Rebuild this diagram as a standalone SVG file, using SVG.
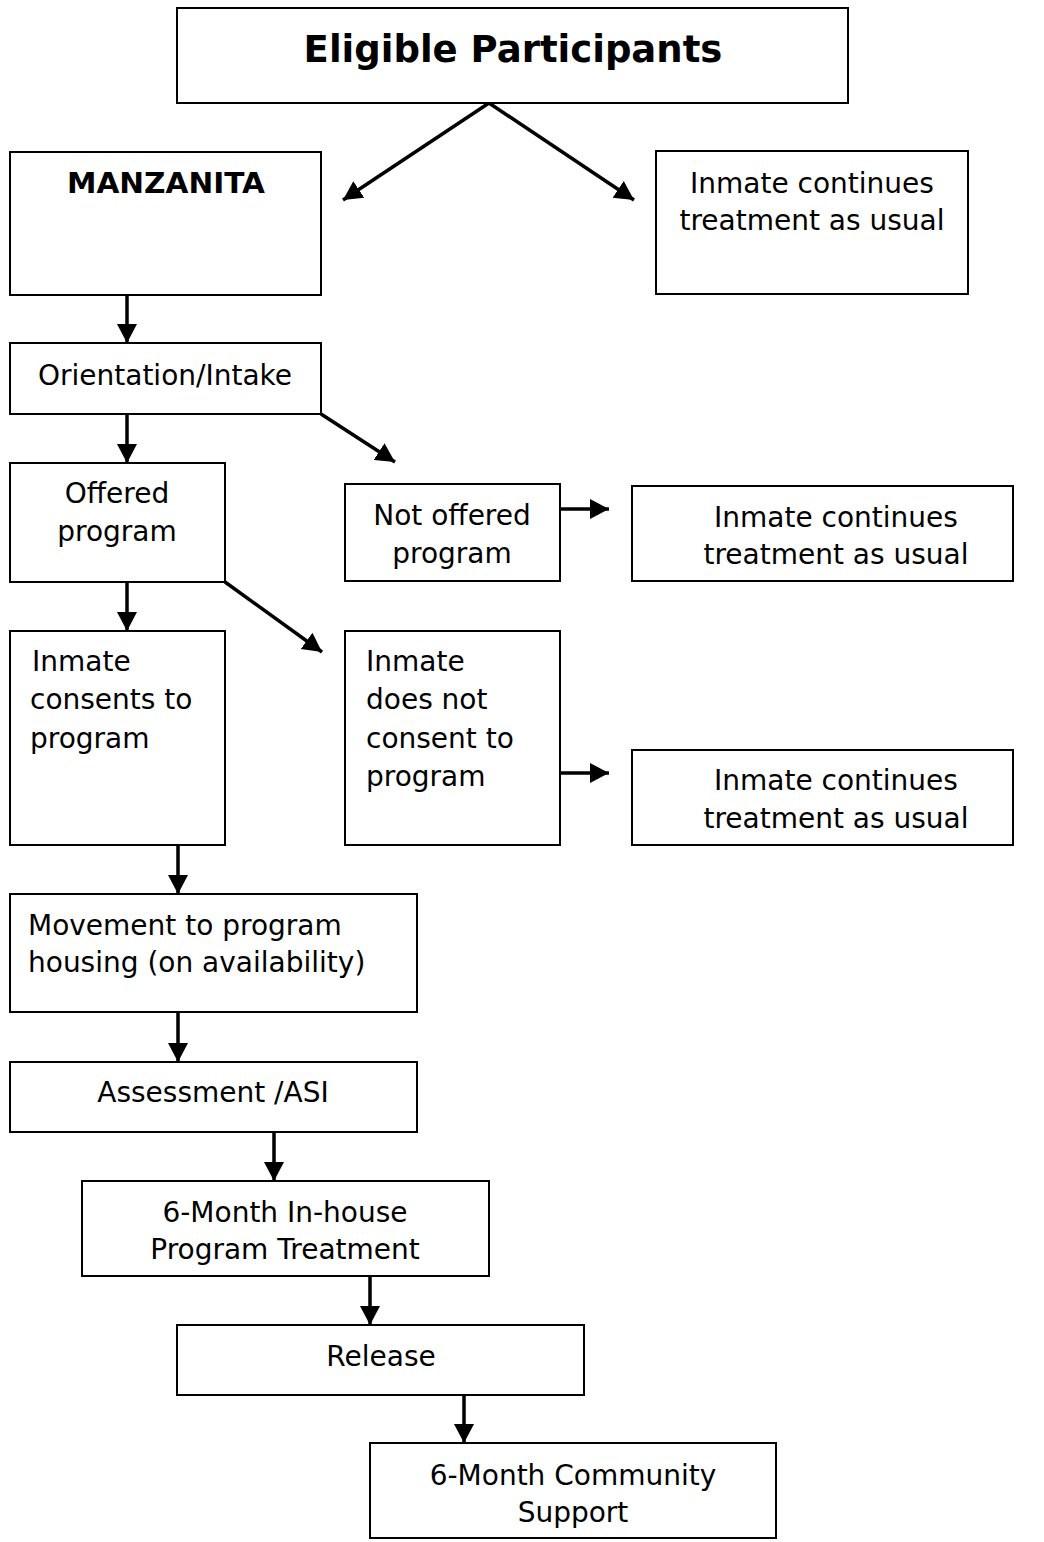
<svg xmlns="http://www.w3.org/2000/svg" width="1044" height="1542" viewBox="0 0 1044 1542">
  <style>
    .box { fill: #ffffff; stroke: #000000; stroke-width: 2; }
    .t { font-family: "DejaVu Sans", Verdana, sans-serif; font-size: 28px; fill: #000000; }
    .c { text-anchor: middle; }
    .b { font-weight: bold; }
    .title { font-size: 37px; }
    .edge { stroke: #000000; stroke-width: 3.5; fill: none; marker-end: url(#arrow); }
  </style>
  <defs>
    <marker id="arrow" markerUnits="userSpaceOnUse" markerWidth="22" markerHeight="22" refX="19" refY="11" orient="auto">
      <path d="M0,1 L19,11 L0,21 Z" fill="#000000"/>
    </marker>
  </defs>

  <rect width="1044" height="1542" fill="#ffffff"/>

  <g id="connectors">
    <line class="edge" x1="489" y1="103" x2="343" y2="200"/>
    <line class="edge" x1="489" y1="103" x2="634" y2="200"/>
    <line class="edge" x1="127" y1="295" x2="127" y2="343"/>
    <line class="edge" x1="127" y1="414" x2="127" y2="463"/>
    <line class="edge" x1="321" y1="414" x2="395" y2="462"/>
    <line class="edge" x1="560" y1="509" x2="609" y2="509"/>
    <line class="edge" x1="127" y1="582" x2="127" y2="631"/>
    <line class="edge" x1="225" y1="582" x2="322" y2="652"/>
    <line class="edge" x1="560" y1="773" x2="609" y2="773"/>
    <line class="edge" x1="178" y1="845" x2="178" y2="894"/>
    <line class="edge" x1="178" y1="1012" x2="178" y2="1062"/>
    <line class="edge" x1="274" y1="1132" x2="274" y2="1181"/>
    <line class="edge" x1="370" y1="1276" x2="370" y2="1325"/>
    <line class="edge" x1="464" y1="1395" x2="464" y2="1443"/>
  </g>

  <g id="eligible">
    <rect class="box" x="177" y="8" width="671" height="95"/>
    <text class="t c b title" x="513" y="62">Eligible Participants</text>
  </g>

  <g id="manzanita">
    <rect class="box" x="10" y="152" width="311" height="143"/>
    <text class="t b" x="67" y="193" textLength="198" lengthAdjust="spacingAndGlyphs">MANZANITA</text>
  </g>

  <g id="tau-1">
    <rect class="box" x="656" y="151" width="312" height="143"/>
    <text class="t c" x="812" y="193">Inmate continues</text>
    <text class="t c" x="812" y="230">treatment as usual</text>
  </g>

  <g id="orientation">
    <rect class="box" x="10" y="343" width="311" height="71"/>
    <text class="t c" x="165" y="385">Orientation/Intake</text>
  </g>

  <g id="offered">
    <rect class="box" x="10" y="463" width="215" height="119"/>
    <text class="t c" x="117" y="503">Offered</text>
    <text class="t c" x="117" y="541">program</text>
  </g>

  <g id="not-offered">
    <rect class="box" x="345" y="484" width="215" height="97"/>
    <text class="t c" x="452" y="525">Not offered</text>
    <text class="t c" x="452" y="563">program</text>
  </g>

  <g id="tau-2">
    <rect class="box" x="632" y="486" width="381" height="95"/>
    <text class="t c" x="836" y="527">Inmate continues</text>
    <text class="t c" x="836" y="564">treatment as usual</text>
  </g>

  <g id="consents">
    <rect class="box" x="10" y="631" width="215" height="214"/>
    <text class="t" x="32" y="671">Inmate</text>
    <text class="t" x="30" y="709">consents to</text>
    <text class="t" x="30" y="748">program</text>
  </g>

  <g id="no-consent">
    <rect class="box" x="345" y="631" width="215" height="214"/>
    <text class="t" x="366" y="671">Inmate</text>
    <text class="t" x="366" y="709">does not</text>
    <text class="t" x="366" y="748">consent to</text>
    <text class="t" x="366" y="786">program</text>
  </g>

  <g id="tau-3">
    <rect class="box" x="632" y="750" width="381" height="95"/>
    <text class="t c" x="836" y="790">Inmate continues</text>
    <text class="t c" x="836" y="828">treatment as usual</text>
  </g>

  <g id="movement">
    <rect class="box" x="10" y="894" width="407" height="118"/>
    <text class="t" x="28" y="935">Movement to program</text>
    <text class="t" x="28" y="972">housing (on availability)</text>
  </g>

  <g id="assessment">
    <rect class="box" x="10" y="1062" width="407" height="70"/>
    <text class="t c" x="213" y="1102">Assessment /ASI</text>
  </g>

  <g id="inhouse">
    <rect class="box" x="82" y="1181" width="407" height="95"/>
    <text class="t c" x="285" y="1222">6-Month In-house</text>
    <text class="t c" x="285" y="1259">Program Treatment</text>
  </g>

  <g id="release">
    <rect class="box" x="177" y="1325" width="407" height="70"/>
    <text class="t c" x="381" y="1366">Release</text>
  </g>

  <g id="community">
    <rect class="box" x="370" y="1443" width="406" height="95"/>
    <text class="t c" x="573" y="1485">6-Month Community</text>
    <text class="t c" x="573" y="1522">Support</text>
  </g>
</svg>
